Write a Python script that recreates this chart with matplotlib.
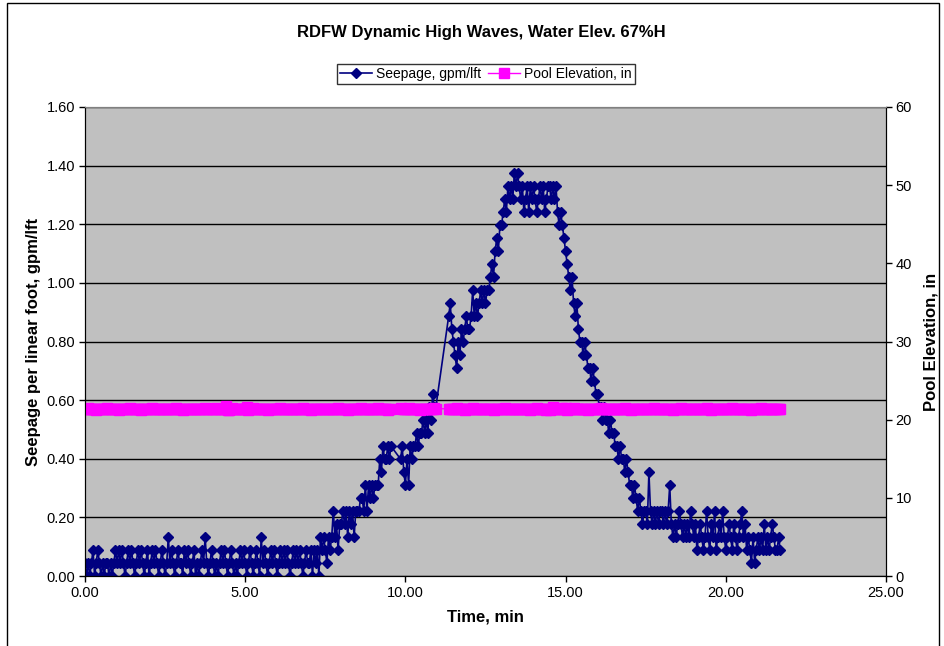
import matplotlib.pyplot as plt
import numpy as np
from matplotlib.patches import Rectangle

plt.rcParams['font.family'] = ['Liberation Sans', 'DejaVu Sans']

# logger: one reading every 0.05 min, three runs with short gaps between them
dt = 0.05
run_start = [0.0, 9.85, 11.35]

# seepage as meter steps (base-36 digit per reading), one string per 0.5 min
seep_step = 0.0443
seep_run1 = ("1010120121" "0101101012" "1212101212" "1012121012"
             "0121210121" "0131210121" "1021210120" "1012131012"
             "1010121210" "1210101212" "1012101210" "3121012121"
             "0121212101" "2121210121" "1202120323" "2132353424"
             "4545354535" "5566575767" "677798A99A9A")
seep_run2 = ("9A8797A9AA" "BABBCBCBDC" "EDD")
seep_run3 = ("KLJIHGIHJIJKJ"
             "JKMKLKLMLM" "LMMNONPQPR" "RSTSUTUTVU" "VUTUSTUSUT"
             "UTSTUTUSTU" "UTUTUSRSRQ" "PONMNLKLJI" "IHIHGGFGFE"
             "EDDCDCCBCB" "BAA9A99898" "7767656545" "5485454545"
             "5454574343" "4543434354" "3423432353" "2435234353"
             "2343243234" "5342321312" "3232423234" "32232")

# pool elevation, tenths of an inch above 21.0 in
pool_run1 = ("4454444344" "4444544444" "4344444454" "4444434444"
             "4454444444" "4444444544" "4344444444" "4444454444"
             "4454444473" "2454444444" "4634454444" "4444344444"
             "4454444444" "4444445444" "4344444444" "4444444454"
             "4444344444" "4454444444" "444544444344")
pool_run2 = ("5444454444" "4434444444" "454")
pool_run3 = ("4444454444344"
             "4454444444" "4444434444" "4454444444" "4444444434"
             "4454444424" "2464444454" "5344454444" "4444344444"
             "4454444444" "4444444544" "4344444444" "4444454444"
             "4444444344" "4454444444" "4444444454" "4344444444"
             "4444544444" "4444443444" "4454444444" "44444")

seep_runs = [seep_run1, seep_run2, seep_run3]
pool_runs = [pool_run1, pool_run2, pool_run3]

time, seep, pool = [], [], []
for t0, s, p in zip(run_start, seep_runs, pool_runs):
    for i, (cs, cp) in enumerate(zip(s, p)):
        time.append(t0 + i * dt)
        seep.append(int(cs, 36) * seep_step)
        pool.append(21.0 + int(cp) / 10)
time = np.array(time)

W, H = 945, 646
fig = plt.figure(figsize=(W / 100, H / 100), dpi=100)
fig.patches.append(Rectangle((7 / W, -0.1), (939 - 7) / W, 1.1 - 3 / H,
                             transform=fig.transFigure, fill=False,
                             edgecolor='black', lw=1))

ax = fig.add_axes([85 / W, 1 - 576 / H, (886 - 85) / W, (576 - 107) / H])
ax.set_facecolor('#C0C0C0')
ax.set_axisbelow(True)
ax.yaxis.grid(True, color='black', lw=1)
ax2 = ax.twinx()

l1, = ax.plot(time, seep, color='#000080', lw=1.2, marker='D', ms=5.5,
              label='Seepage, gpm/lft')
l2, = ax2.plot(time, pool, color='#FF00FF', lw=1, marker='s', ms=6.5,
               label='Pool Elevation, in')

ax.set_xlim(0, 25)
ax.set_ylim(0, 1.6)
ax2.set_ylim(0, 60)
ax.set_xticks(np.arange(0, 25.1, 5))
ax.set_xticklabels([f'{v:.2f}' for v in np.arange(0, 25.1, 5)])
ax.set_yticks(np.arange(0, 1.61, 0.2))
ax.set_yticklabels([f'{v:.2f}' for v in np.arange(0, 1.61, 0.2)])
ax2.set_yticks(np.arange(0, 61, 10))

for a in (ax, ax2):
    a.tick_params(direction='out', length=4, width=1, labelsize=10.5, pad=3,
                  color='black')
    for sp in a.spines.values():
        sp.set_color('black')
ax.spines['top'].set_color('#808080')
ax2.spines['top'].set_color('#808080')

ax.set_xlabel('Time, min', fontsize=12, fontweight='bold', labelpad=7)
ax.set_ylabel('Seepage per linear foot, gpm/lft', fontsize=12,
              fontweight='bold', labelpad=4)
ax2.set_ylabel('Pool Elevation, in', fontsize=12, fontweight='bold',
               rotation=90, labelpad=8)

fig.text(481 / W, 1 - 32 / H, 'RDFW Dynamic High Waves, Water Elev. 67%H',
         ha='center', va='center', fontsize=12, fontweight='bold')

leg = fig.legend([l1, l2], [l1.get_label(), l2.get_label()], loc='center',
                 bbox_to_anchor=(486 / W, 1 - 74 / H), ncol=2, fontsize=10,
                 frameon=True, fancybox=False, edgecolor='black',
                 handlelength=2.3, columnspacing=0.5, handletextpad=0.3,
                 borderpad=0.2, borderaxespad=0)
leg.get_frame().set_linewidth(1)

fig.savefig('out.png', dpi=100)
